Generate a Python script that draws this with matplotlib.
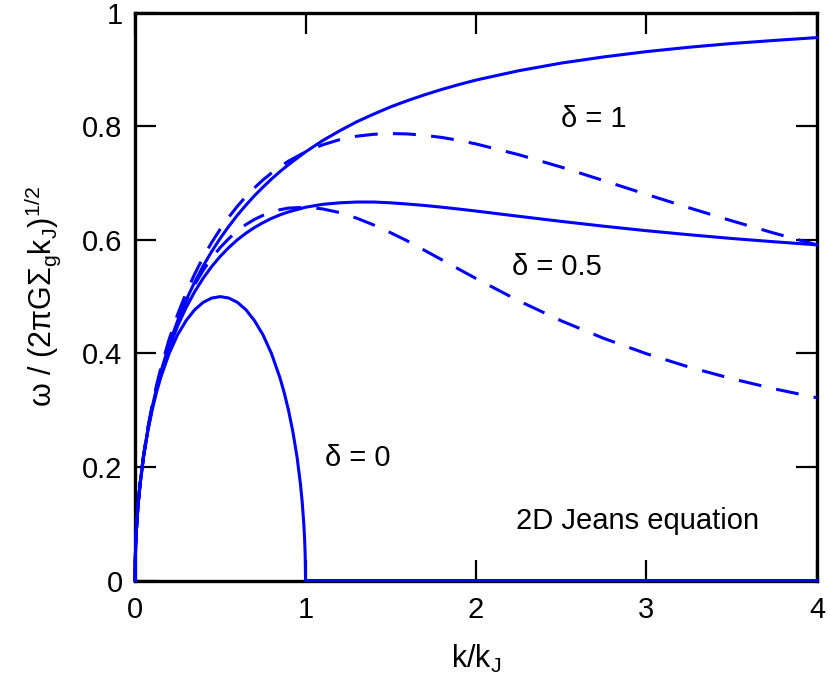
import matplotlib
matplotlib.use("Agg")
import matplotlib.pyplot as plt

plt.rcParams['font.family'] = ['Liberation Sans', 'DejaVu Sans']
plt.rcParams['mathtext.fontset'] = 'custom'
plt.rcParams['mathtext.rm'] = 'Liberation Sans'
plt.rcParams['mathtext.it'] = 'Liberation Sans'
plt.rcParams['mathtext.bf'] = 'Liberation Sans:bold'
plt.rcParams['mathtext.sf'] = 'Liberation Sans'

# ---- data ----
k_d0 = [0.0, 0.002, 0.005, 0.01, 0.02, 0.03, 0.05, 0.075, 0.1, 0.125,
        0.15, 0.2, 0.25, 0.3, 0.35, 0.4, 0.45, 0.5, 0.55, 0.6,
        0.65, 0.7, 0.75, 0.8, 0.85, 0.875, 0.9, 0.925, 0.95, 0.97,
        0.98, 0.99, 0.995, 0.998, 1.0, 4.0]
w_d0 = [0.0, 0.0447, 0.0705, 0.0995, 0.14, 0.1706, 0.218, 0.2634, 0.3, 0.3307,
        0.357, 0.4, 0.433, 0.458, 0.477, 0.49, 0.4975, 0.5, 0.4975, 0.49,
        0.477, 0.458, 0.433, 0.4, 0.3571, 0.3307, 0.3, 0.2634, 0.218, 0.1706,
        0.14, 0.0995, 0.0705, 0.0447, 0.0, 0.0]

k_grid = [0.0, 0.002, 0.005, 0.01, 0.02, 0.03, 0.05, 0.075, 0.1, 0.125,
          0.15, 0.2, 0.25, 0.3, 0.35, 0.4, 0.45, 0.5, 0.55, 0.6,
          0.65, 0.7, 0.75, 0.8, 0.85, 0.9, 1.0, 1.1, 1.2, 1.3,
          1.4, 1.5, 1.6, 1.7, 1.8, 1.9, 2.0, 2.25, 2.5, 2.75,
          3.0, 3.25, 3.5, 3.75, 4.0]

w_d1_solid = [0.0, 0.0447, 0.0707, 0.0995, 0.1402, 0.171, 0.219, 0.2657, 0.3041, 0.337,
              0.3661, 0.4159, 0.4578, 0.494, 0.5258, 0.5542, 0.5797, 0.6028, 0.6239, 0.6433,
              0.661, 0.6776, 0.6927, 0.707, 0.7202, 0.7324, 0.7549, 0.7747, 0.792, 0.8079,
              0.8215, 0.8343, 0.8454, 0.8556, 0.865, 0.8735, 0.8814, 0.8978, 0.9113, 0.9222,
              0.9315, 0.9392, 0.9458, 0.9512, 0.9562]

w_d05_solid = [0.0, 0.0447, 0.0706, 0.0995, 0.1401, 0.1708, 0.2185, 0.2647, 0.3024, 0.3344,
               0.3625, 0.4097, 0.4485, 0.481, 0.5088, 0.5326, 0.5532, 0.571, 0.5865, 0.6,
               0.6116, 0.6216, 0.6302, 0.6377, 0.644, 0.6492, 0.6574, 0.6625, 0.6652, 0.6666,
               0.6666, 0.6652, 0.663, 0.6605, 0.6575, 0.6542, 0.6507, 0.6415, 0.6325, 0.624,
               0.6161, 0.609, 0.6024, 0.5966, 0.5912]

w_d1_dash = [0.0, 0.0447, 0.0707, 0.0998, 0.1407, 0.1719, 0.2208, 0.2687, 0.3083, 0.3425,
             0.3728, 0.4249, 0.4688, 0.5067, 0.54, 0.5694, 0.5956, 0.619, 0.6401, 0.6591,
             0.6762, 0.6915, 0.7054, 0.7176, 0.7287, 0.7386, 0.7549, 0.7673, 0.7765, 0.7825,
             0.7859, 0.7872, 0.7865, 0.784, 0.7803, 0.7751, 0.7689, 0.75, 0.7281, 0.7042,
             0.6801, 0.6564, 0.6335, 0.6117, 0.5912]

w_d05_dash = [0.0, 0.0447, 0.0707, 0.0997, 0.1405, 0.1715, 0.2199, 0.267, 0.3056, 0.3387,
              0.3678, 0.4171, 0.4578, 0.4921, 0.5213, 0.5465, 0.5681, 0.5866, 0.6022, 0.6155,
              0.6268, 0.6359, 0.6431, 0.6489, 0.6531, 0.6559, 0.6574, 0.6545, 0.648, 0.6382,
              0.6262, 0.6124, 0.5977, 0.5812, 0.5648, 0.5483, 0.5319, 0.4927, 0.4574, 0.4264,
              0.3994, 0.3759, 0.3555, 0.3376, 0.3219]

x_ticks = [0, 1, 2, 3, 4]
x_ticklabels = ['0', '1', '2', '3', '4']
y_ticks = [0, 0.2, 0.4, 0.6, 0.8, 1.0]
y_ticklabels = ['0', '0.2', '0.4', '0.6', '0.8', '1']

labels = ['δ = 1', 'δ = 0.5', 'δ = 0', '2D Jeans equation']
label_x = [2.692, 2.474, 1.304, 2.947]
label_y = [0.7986, 0.538, 0.2017, 0.0907]

# ---- figure ----
fig = plt.figure(figsize=(8.3, 6.95), dpi=100)
ax = fig.add_axes([0.1627, 0.1647, 0.8216, 0.817])

blue = '#0000ff'
lw = 2.2
dash = (7.5, 5.0)
common = dict(color=blue, lw=lw, clip_on=False, zorder=5,
              solid_joinstyle='round', dash_joinstyle='round')

ax.plot(k_d0, w_d0, **common)
ax.plot(k_grid, w_d1_solid, **common)
ax.plot(k_grid, w_d05_solid, **common)
ax.plot(k_grid, w_d1_dash, dashes=dash, **common)
ax.plot(k_grid, w_d05_dash, dashes=dash, **common)

ax.set_xlim(0, 4)
ax.set_ylim(0, 1)
ax.set_xticks(x_ticks)
ax.set_xticklabels(x_ticklabels)
ax.set_yticks(y_ticks)
ax.set_yticklabels(y_ticklabels)
ax.tick_params(direction='in', length=15, width=1.6, labelsize=21,
               top=True, right=True, pad=9)
ax.tick_params(axis='x', pad=11)
for s in ax.spines.values():
    s.set_linewidth(2.4)

ax.set_xlabel(r'k/k$_\mathregular{J}$', fontsize=22, labelpad=14)
ax.set_ylabel(r'$\omega\ /\ (2\pi G\Sigma_g k_J)^{1/2}$', fontsize=22, labelpad=14)

for t, x, y in zip(labels, label_x, label_y):
    ax.text(x, y, t, fontsize=21, ha='center', va='baseline')

fig.savefig('out.png', dpi=100)
